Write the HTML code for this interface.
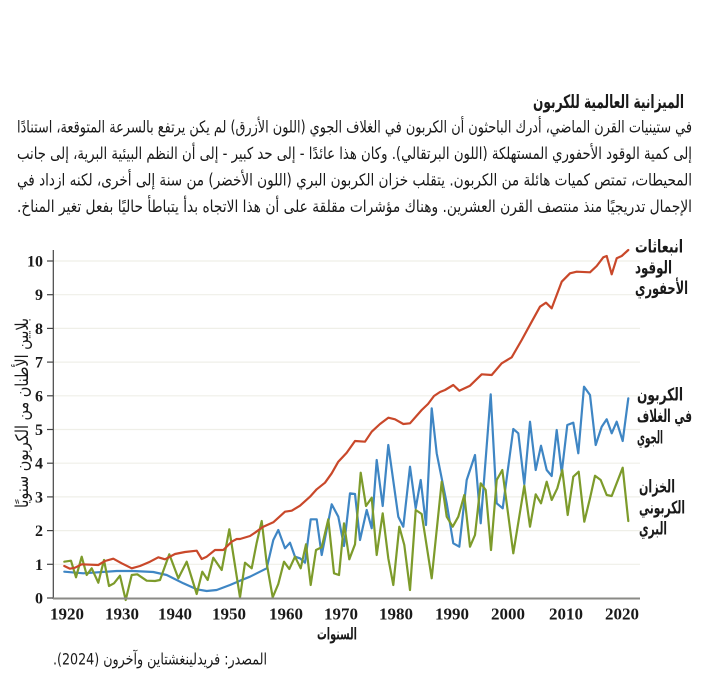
<!DOCTYPE html>
<html><head><meta charset="utf-8"><style>
html,body{margin:0;padding:0;background:#fff;}
svg{display:block;}
.ar{font-family:"DejaVu Sans",sans-serif;fill:#1a1a1a;}
.num{font-family:"Liberation Serif",serif;font-weight:bold;fill:#1a1a1a;}
</style></head><body>
<svg width="703" height="673" viewBox="0 0 703 673" xmlns="http://www.w3.org/2000/svg">
<rect width="703" height="673" fill="#fff"/>
<!-- title + paragraph -->
<text class="ar" x="608.5" y="108" font-size="18.5" font-weight="bold" text-anchor="middle" direction="rtl" textLength="151" lengthAdjust="spacingAndGlyphs">الميزانية العالمية للكربون</text>
<text class="ar" x="354.5" y="132.5" font-size="16.5" text-anchor="middle" direction="rtl" textLength="675" lengthAdjust="spacingAndGlyphs">في ستينيات القرن الماضي، أدرك الباحثون أن الكربون في الغلاف الجوي (اللون الأزرق) لم يكن يرتفع بالسرعة المتوقعة، استنادًا</text>
<text class="ar" x="354.5" y="159" font-size="16.5" text-anchor="middle" direction="rtl" textLength="675" lengthAdjust="spacingAndGlyphs">إلى كمية الوقود الأحفوري المستهلكة (اللون البرتقالي). وكان هذا عائدًا - إلى حد كبير - إلى أن النظم البيئية البرية، إلى جانب</text>
<text class="ar" x="354.5" y="185.5" font-size="16.5" text-anchor="middle" direction="rtl" textLength="675" lengthAdjust="spacingAndGlyphs">المحيطات، تمتص كميات هائلة من الكربون. يتقلب خزان الكربون البري (اللون الأخضر) من سنة إلى أخرى، لكنه ازداد في</text>
<text class="ar" x="354.5" y="212" font-size="16.5" text-anchor="middle" direction="rtl" textLength="675" lengthAdjust="spacingAndGlyphs">الإجمال تدريجيًا منذ منتصف القرن العشرين. وهناك مؤشرات مقلقة على أن هذا الاتجاه بدأ يتباطأ حاليًا بفعل تغير المناخ.</text>

<!-- gridlines -->
<g stroke="#efefe8" stroke-width="1.2">
<line x1="53" y1="564.3" x2="640" y2="564.3"/>
<line x1="53" y1="530.6" x2="640" y2="530.6"/>
<line x1="53" y1="496.9" x2="640" y2="496.9"/>
<line x1="53" y1="463.2" x2="640" y2="463.2"/>
<line x1="53" y1="429.5" x2="640" y2="429.5"/>
<line x1="53" y1="395.8" x2="640" y2="395.8"/>
<line x1="53" y1="362.1" x2="640" y2="362.1"/>
<line x1="53" y1="328.4" x2="640" y2="328.4"/>
<line x1="53" y1="294.7" x2="640" y2="294.7"/>
<line x1="53" y1="261" x2="640" y2="261"/>
</g>
<!-- y ticks -->
<g stroke="#444" stroke-width="1.2">
<line x1="47" y1="598" x2="53" y2="598"/>
<line x1="47" y1="564.3" x2="53" y2="564.3"/>
<line x1="47" y1="530.6" x2="53" y2="530.6"/>
<line x1="47" y1="496.9" x2="53" y2="496.9"/>
<line x1="47" y1="463.2" x2="53" y2="463.2"/>
<line x1="47" y1="429.5" x2="53" y2="429.5"/>
<line x1="47" y1="395.8" x2="53" y2="395.8"/>
<line x1="47" y1="362.1" x2="53" y2="362.1"/>
<line x1="47" y1="328.4" x2="53" y2="328.4"/>
<line x1="47" y1="294.7" x2="53" y2="294.7"/>
<line x1="47" y1="261" x2="53" y2="261"/>
<line x1="53.3" y1="250" x2="53.3" y2="599"/>
</g>
<g class="num" font-size="16" text-anchor="end">
<text x="43" y="603.5">0</text>
<text x="43" y="569.8">1</text>
<text x="43" y="536.1">2</text>
<text x="43" y="502.4">3</text>
<text x="43" y="468.7">4</text>
<text x="43" y="435">5</text>
<text x="43" y="401.3">6</text>
<text x="43" y="367.6">7</text>
<text x="43" y="333.9">8</text>
<text x="43" y="300.2">9</text>
<text x="43" y="266.5">10</text>
</g>
<text class="ar" transform="translate(28,413) rotate(-90)" x="0" y="0" font-size="17.5" text-anchor="middle" direction="rtl" textLength="190" lengthAdjust="spacingAndGlyphs">بلايين الأطنان من الكربون سنويًا</text>

<!-- series -->
<g fill="none" stroke-width="2.2" stroke-linejoin="round" stroke-linecap="round">
<polyline stroke="#3f86c4" points="64.3,571.7 83.3,573.3 116.7,571 133.3,571 153.3,572 166.7,575 183.3,583.3 196.7,589.3 206.7,591 216.7,590 230,585 240,580.7 250,576.7 266.7,568.3 273.3,540 278.3,530 285,548.3 290,542.7 295,556.7 300,558.3 305,562.7 310.7,519.3 316.7,519.3 321.7,555 331.7,504.3 338.3,516.7 344,546 350,493.3 355,494 360,540 366.7,510 371.7,528.3 376.7,460 382.7,506 388.3,445 398.3,516.7 403.3,526.7 410,466.7 415.7,508.3 420.7,480 426,525 431.7,408.3 436.7,453.3 446.7,503.3 453.3,543.3 459.3,546.7 466.7,480 475,455 480.7,523.3 490.7,394.3 496.7,503.3 502.7,508.3 513.3,429 518.3,433.3 524.3,484.3 530,421.7 535.7,470 541,445.7 546.7,470 551.7,476 556.7,430 561.7,472.7 567.3,425 573.3,422.7 578.3,453.3 584,386.7 590,395 595.7,445 601.7,426.7 606.7,419.3 611.7,433.3 616.7,421.7 622.7,441 628.3,398.3"/>
<polyline stroke="#7d9b2b" points="64.3,561.7 71,560.7 76,577.3 81.7,556.7 86.7,575 91.7,568.3 98.3,582.7 104,560 109,586 114,583.3 120,575.7 125.7,600 131.7,575 137.3,574.3 146.7,580.7 155,581 160,580 169.3,554.3 178.3,578.3 186.7,561.7 196.7,594 202.3,571.7 207.7,580 213.3,557.7 221.7,570 229.3,529.3 240,597.3 245,562.7 251.7,568.3 256.7,542.7 261.7,521 266.7,563.3 272.7,597.3 278.3,584 284,561.7 289.3,569 295,556.7 300.7,568.3 306,544.3 310.7,585 316,550 321.7,547.3 328.3,519.3 334,573.3 339,575 344,523.3 349.3,559.3 355,544.3 360.7,472.7 366,506 371.7,497.7 376.7,555 382.7,513.3 388.3,558.3 393.3,585 399.3,526.7 404.3,545 410,590 415.7,510 421.7,514 431.7,578.3 441.7,481.7 446.7,516.7 452.7,526.7 458.3,516.7 464.3,495 470,546.7 475,535 480.7,483.3 485.7,490 491,550 496.7,480 502.3,470 513.3,553.3 524.3,485.7 530,526.7 535.7,494.3 541,503.3 546.7,481.7 551.7,500 557.3,488.3 562.3,470 567.7,515 573.3,476.7 578.7,471.7 584.3,521.7 590,498.3 595,475.7 600.7,480 606.7,495 611.7,496 622.7,467.7 628.3,521"/>
<polyline stroke="#c9482a" points="64.3,566 70,568.7 75,567.7 81.7,564.3 98.3,565 105,561 113.3,558.7 121.7,563.3 131.7,568.3 140,566 150,561.7 158.3,557.3 165,559.3 175,554 185,552 196.7,550.7 201.7,559 206.7,556.7 215,550 223.3,550 231.7,541.7 236.7,539 240,539 250,536 255,532.7 263.3,526.7 273.3,522.3 285,511.7 291.7,510.7 300,505.7 310,496.7 316.7,489.3 325,482.7 331.7,473.3 338.3,461.7 346.7,452.7 355,441 365,441.7 371.7,431.7 380,424 388.3,417.7 395,419.3 403.3,424 410,423.3 421.7,410 428,404 434,396 440,392 445,390 453.3,385 459.3,390.7 470,385.7 481.7,374.3 491.7,375 501.7,363.3 511.7,357.3 521.7,340 531.7,321.7 540,306.7 546,302.7 551.7,308.3 561.7,281.7 570,273.3 576.7,271.7 590,272.3 596.7,266 603.3,257.3 606.7,256 611.7,274.3 616.7,258.3 621.7,256 628.3,250"/>
</g>
<!-- x axis -->
<line x1="53" y1="598.5" x2="640" y2="598.5" stroke="#8a8a86" stroke-width="2"/>
<g class="num" font-size="17" text-anchor="middle">
<text x="67" y="619.5">1920</text>
<text x="122" y="619.5">1930</text>
<text x="175" y="619.5">1940</text>
<text x="229" y="619.5">1950</text>
<text x="286" y="619.5">1960</text>
<text x="341" y="619.5">1970</text>
<text x="396" y="619.5">1980</text>
<text x="452" y="619.5">1990</text>
<text x="508" y="619.5">2000</text>
<text x="566" y="619.5">2010</text>
<text x="622" y="619.5">2020</text>
</g>
<text class="ar" x="337" y="639.5" font-size="16.5" font-weight="bold" text-anchor="middle" direction="rtl" textLength="40" lengthAdjust="spacingAndGlyphs">السنوات</text>
<text class="ar" x="160" y="664.5" font-size="16" text-anchor="middle" direction="rtl" textLength="214" lengthAdjust="spacingAndGlyphs">المصدر: فريدلينغشتاين وآخرون (2024).</text>

<!-- legend labels -->
<g class="ar" font-size="17.5" font-weight="bold" text-anchor="middle" direction="rtl">
<text x="659" y="252.5" textLength="48" lengthAdjust="spacingAndGlyphs">انبعاثات</text>
<text x="653.5" y="273.5" textLength="37" lengthAdjust="spacingAndGlyphs">الوقود</text>
<text x="661.5" y="294" textLength="53" lengthAdjust="spacingAndGlyphs">الأحفوري</text>
<text x="660" y="400.5" textLength="46" lengthAdjust="spacingAndGlyphs">الكربون</text>
<text x="664.5" y="422" textLength="55" lengthAdjust="spacingAndGlyphs">في الغلاف</text>
<text x="650" y="443.5" textLength="26" lengthAdjust="spacingAndGlyphs">الجوي</text>
<text x="657" y="492.5" textLength="36" lengthAdjust="spacingAndGlyphs">الخزان</text>
<text x="662" y="513.5" textLength="46" lengthAdjust="spacingAndGlyphs">الكربوني</text>
<text x="653" y="534.5" textLength="28" lengthAdjust="spacingAndGlyphs">البري</text>
</g>
</svg>
</body></html>
